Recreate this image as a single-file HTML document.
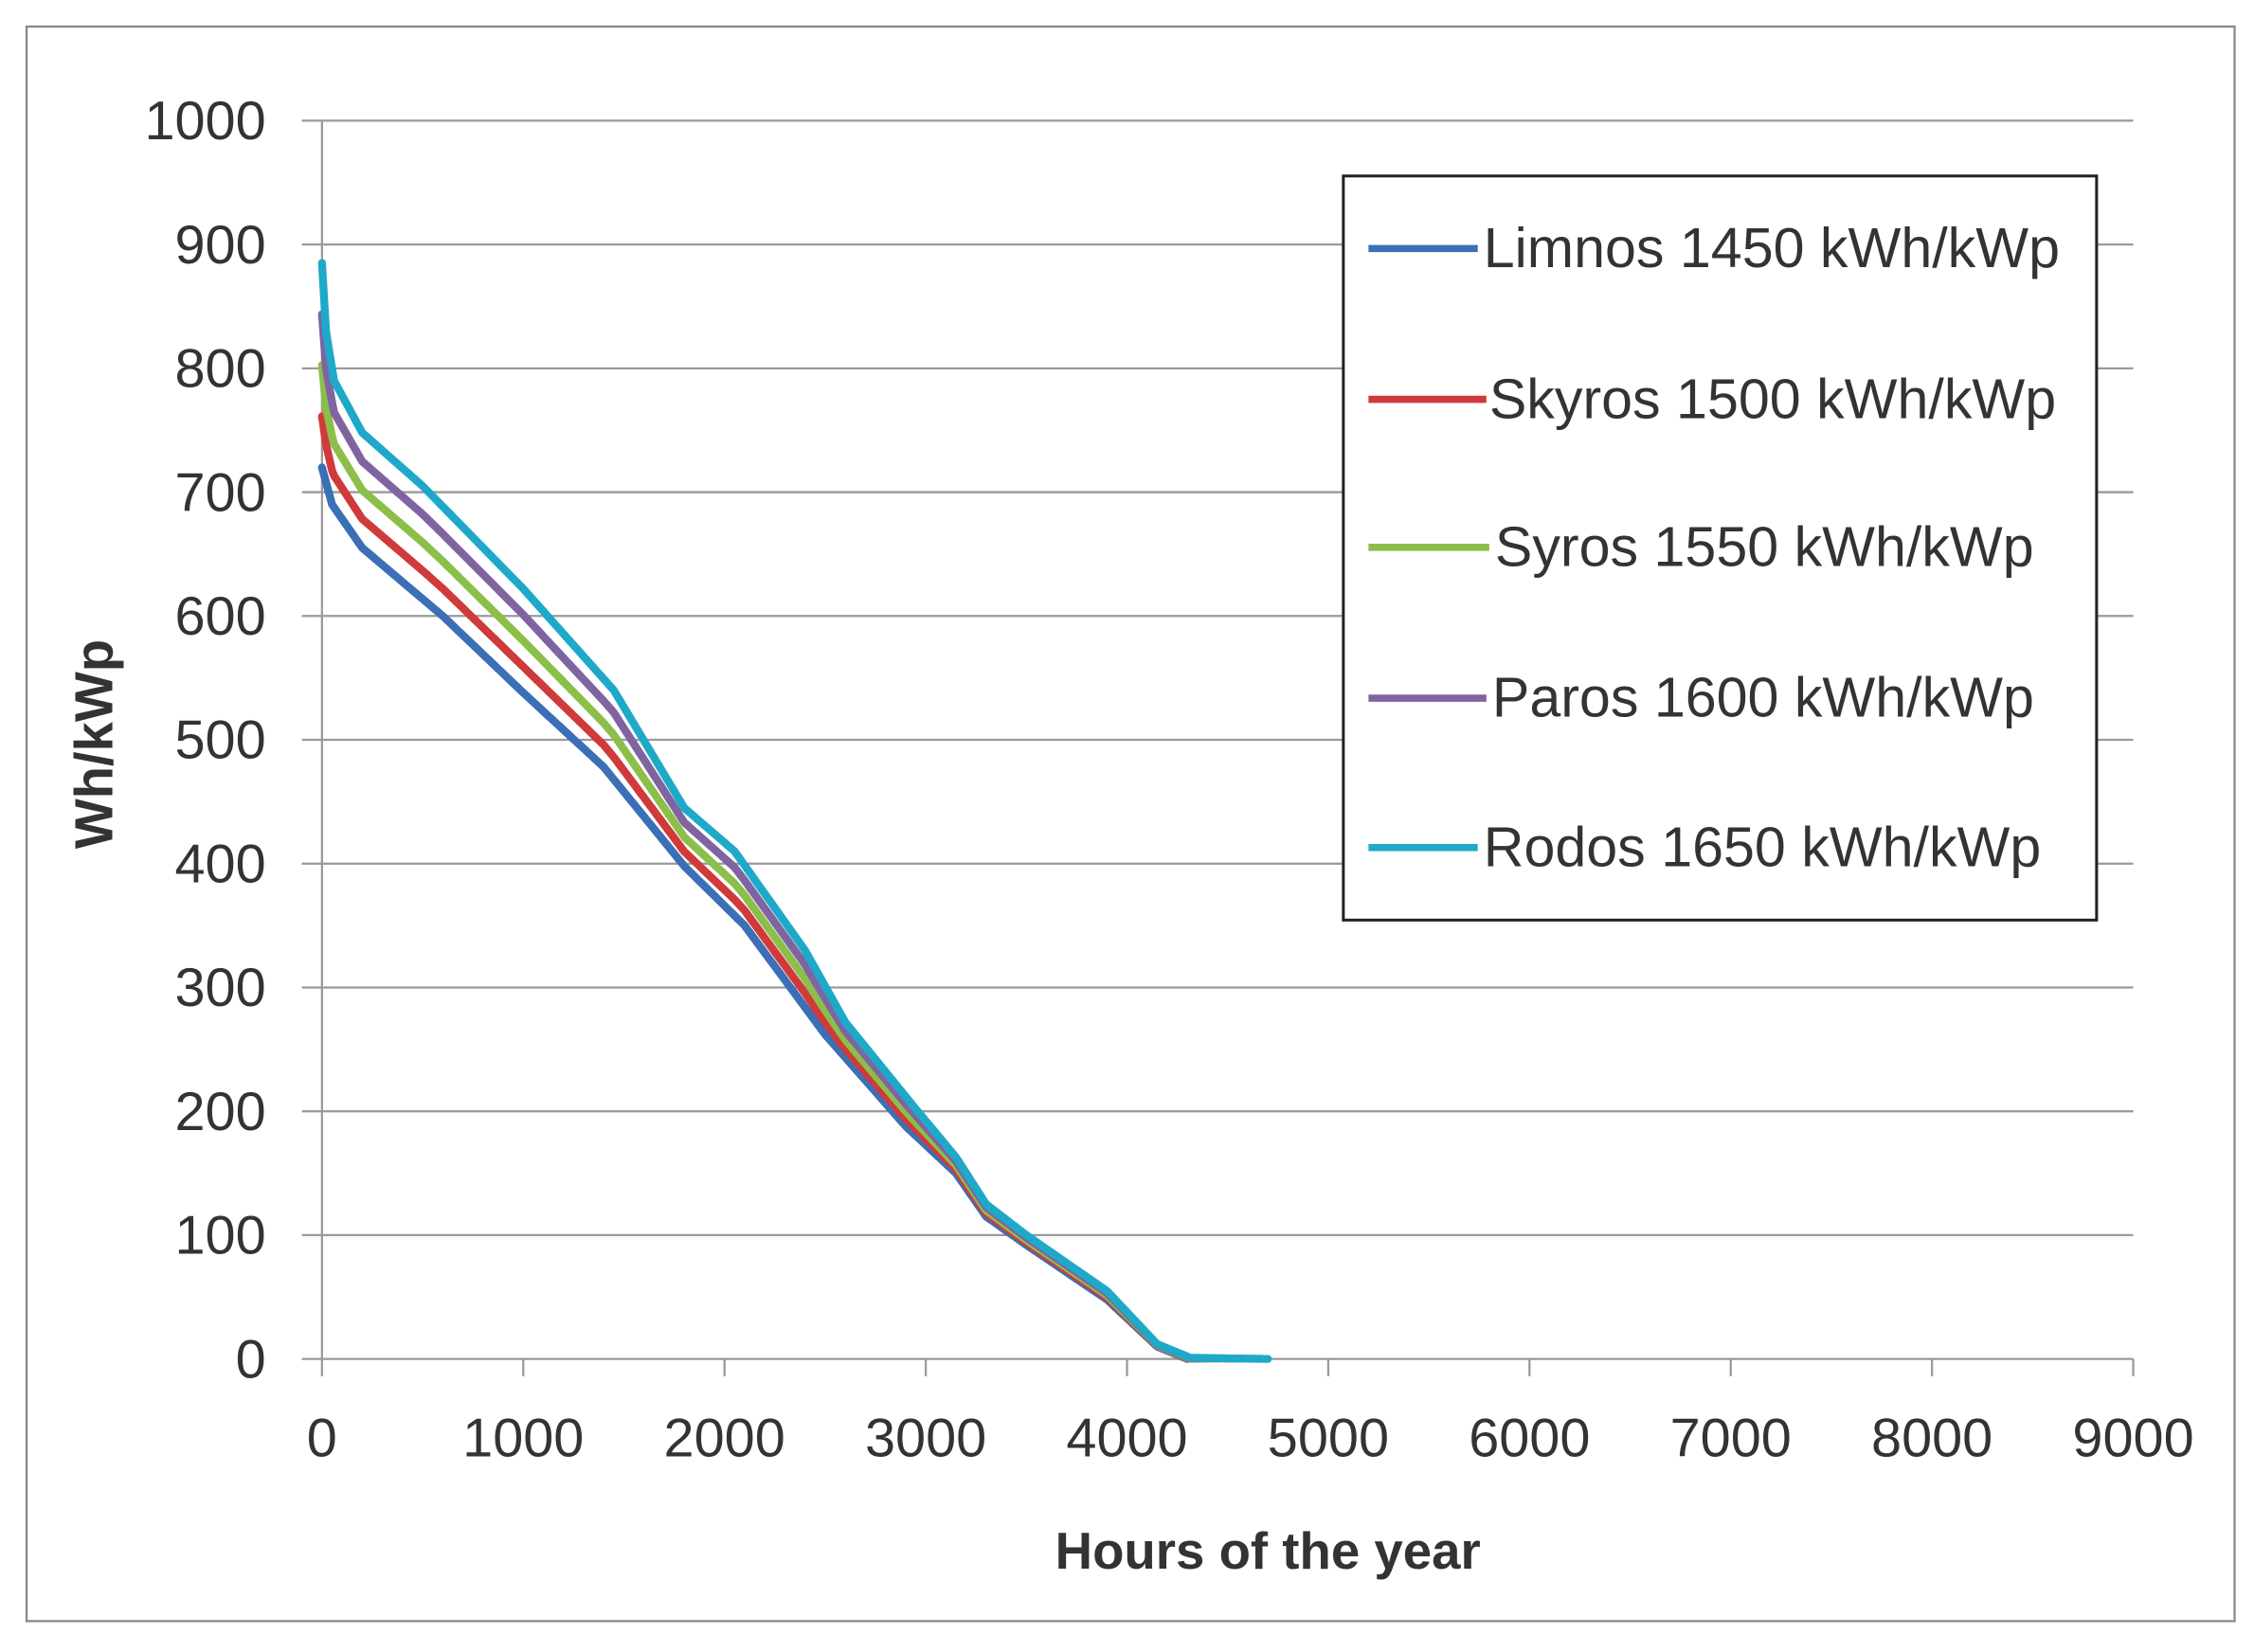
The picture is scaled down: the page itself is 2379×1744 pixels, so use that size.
<!DOCTYPE html>
<html><head><meta charset="utf-8"><style>
html,body{margin:0;padding:0;background:#fff}
svg{display:block}
text{font-family:"Liberation Sans","DejaVu Sans",sans-serif;fill:#333}
</style></head><body>
<svg id="s" width="2379" height="1744" viewBox="0 0 1568 1150" preserveAspectRatio="none" xmlns="http://www.w3.org/2000/svg">
<rect x="0" y="0" width="1568" height="1150" fill="#fff"/>
<rect x="18.5" y="18.5" width="1536" height="1110" fill="none" stroke="#888" stroke-width="1.5"/>
<g id="grid" stroke="#9a9a9a" stroke-width="1.5"></g>
<g id="yl" font-size="38" text-anchor="end"></g>
<g id="xl" font-size="38" text-anchor="middle"></g>
<text x="882" y="1092" font-size="36" font-weight="bold" text-anchor="middle">Hours of the year</text>
<text transform="translate(78 518) rotate(-90)" font-size="37" font-weight="bold" text-anchor="middle">Wh/kWp</text>
<g id="curves" fill="none" stroke-width="5.5" stroke-linejoin="round" stroke-linecap="round"></g>
<rect x="934.5" y="122.5" width="524" height="518" fill="#fff" stroke="#222" stroke-width="2"/>
<g font-size="39">
<line x1="952" y1="173" x2="1028" y2="173" stroke="#3b6fb6" stroke-width="5"/><text x="1032" y="186">Limnos 1450 kWh/kWp</text>
<line x1="952" y1="278" x2="1034" y2="278" stroke="#d03a3a" stroke-width="5"/><text x="1036" y="291">Skyros 1500 kWh/kWp</text>
<line x1="952" y1="381" x2="1036" y2="381" stroke="#8cbf4a" stroke-width="5"/><text x="1040" y="394">Syros 1550 kWh/kWp</text>
<line x1="952" y1="486" x2="1034" y2="486" stroke="#8064a2" stroke-width="5"/><text x="1038" y="499">Paros 1600 kWh/kWp</text>
<line x1="952" y1="590" x2="1028" y2="590" stroke="#1fa9c9" stroke-width="5"/><text x="1032" y="603">Rodos 1650 kWh/kWp</text>
</g>
</svg>
<script>
var NS="http://www.w3.org/2000/svg";
function X(h){return 224+h*0.14}
function Y(v){return 946-v*0.862}
function el(p,t,a,txt){var e=document.createElementNS(NS,t);for(var k in a)e.setAttribute(k,a[k]);if(txt!=null)e.textContent=txt;document.getElementById(p).appendChild(e);return e}
for(var v=0;v<=1000;v+=100){el("grid","line",{x1:210,x2:1484,y1:Y(v),y2:Y(v)});el("yl","text",{x:185,y:Y(v)+13},v)}
el("grid","line",{x1:224,x2:224,y1:Y(1000),y2:946});
for(var h=0;h<=9000;h+=1000){el("grid","line",{x1:X(h),x2:X(h),y1:946,y2:958});el("xl","text",{x:X(h),y:1014},h)}
var lim=[[0,720],[50,690],[200,655],[600,600],[1000,538],[1400,478],[1800,398],[2100,350],[2500,262],[2900,188],[3150,150],[3300,115],[3500,92],[3900,48],[4150,10],[4300,0]];
var rod=[[0,885],[20,830],[60,790],[200,748],[500,705],[1000,622],[1450,540],[1800,445],[2050,410],[2400,330],[2600,272],[2950,202],[3150,163],[3300,125],[3500,100],[3900,55],[4150,12],[4300,2],[4700,0]];
function interp(a,x){for(var i=0;i<a.length-1;i++){if(x<=a[i+1][0]){var t=(x-a[i][0])/(a[i+1][0]-a[i][0]);return a[i][1]+t*(a[i+1][1]-a[i][1])}}return a[a.length-1][1]}
var cols=["#3b6fb6","#d03a3a","#8cbf4a","#8064a2","#1fa9c9"];
var ends=[4300,4400,4450,4550,4700];
for(var c=0;c<5;c++){var f=c/4,d="";for(var x=0;x<=ends[c];x+=10){var v=interp(lim,x)*(1-f)+interp(rod,x)*f;if(x>4300)v=Math.max(0,interp(rod,x)*f*0.5);d+=(x?"L":"M")+X(x).toFixed(1)+" "+Y(v).toFixed(1)}el("curves","path",{d:d,stroke:cols[c]})}
</script>
</body></html>
